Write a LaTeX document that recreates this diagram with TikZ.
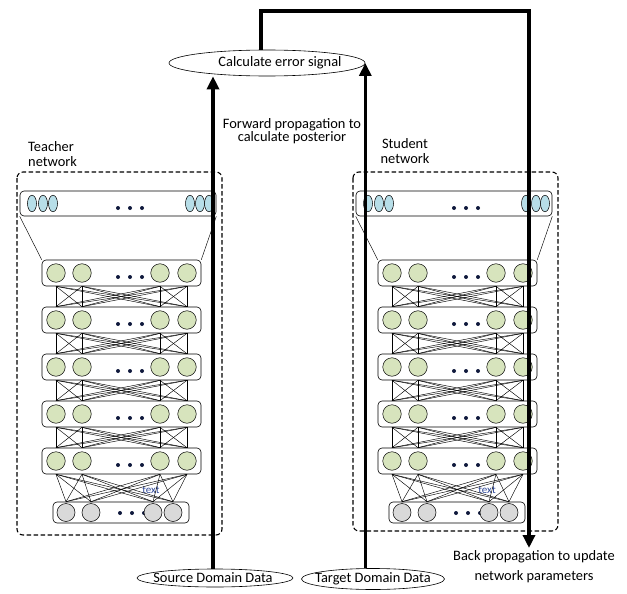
\documentclass[tikz,border=0pt]{standalone}
\usepackage{fontspec}
\setmainfont{Carlito}
\usetikzlibrary{shapes.geometric,arrows.meta}
\definecolor{unitgreen}{RGB}{215,228,189}
\definecolor{unitblue}{RGB}{183,222,232}
\definecolor{unitgray}{RGB}{217,217,217}
\definecolor{dotnavy}{RGB}{15,25,60}
\definecolor{tagblue}{RGB}{45,70,150}
\tikzset{
  layerbox/.style={draw,rounded corners=4pt,fill=white,line width=0.6pt,inner sep=0pt},
  hunit/.style={circle,draw,line width=0.5pt,fill=unitgreen,minimum size=18.5pt,inner sep=0pt},
  iunit/.style={circle,draw,line width=0.5pt,fill=unitgray,minimum size=18pt,inner sep=0pt},
  ounit/.style={ellipse,draw,line width=0.5pt,fill=unitblue,minimum width=9pt,minimum height=16.5pt,inner sep=0pt},
  netbox/.style={draw,dash pattern=on 4.5pt off 2.5pt,line width=1.1pt,rounded corners=6pt},
  datanode/.style={ellipse,draw,line width=0.6pt,inner sep=0pt},
  bigarrow/.style={line width=3.6pt,-{Triangle[width=12pt,length=13pt]}},
  link/.style={line width=0.45pt},
  txt/.style={font=\fontsize{14.4}{15}\selectfont,inner sep=0pt}
}
\begin{document}
\begin{tikzpicture}[x=1pt,y=-1pt]
\useasboundingbox (0,0) rectangle (627,594);
\foreach \p/\dx/\bot in {t/0/535,s/336/531}{
\begin{scope}[xshift=\dx pt,name prefix=\p-]
\draw[netbox] (17,172) rectangle (222,\bot);
\node[layerbox,minimum width=196pt,minimum height=25pt] (out) at (118,203.5) {};
\foreach \x in {32,43,53,190,200,209} \node[ounit] at (\x,203.5) {};
\foreach \x in {118,130,142} \fill[dotnavy] (\x,208) circle (2pt);
\foreach \k in {1,...,5}{
  \node[layerbox,minimum width=159pt,minimum height=26pt] (l\k) at (121.5,{226+47*\k}) {};
  \foreach \x [count=\i] in {56,82,160,187} \node[hunit] (u\k-\i) at (\x,{226+47*\k}) {};
  \foreach \x in {118,130,142} \fill[dotnavy] (\x,{230+47*\k}) circle (2pt);
}
\node[layerbox,minimum width=136pt,minimum height=21pt] (inp) at (121,512.5) {};
\foreach \x in {120,132,144} \fill[dotnavy] (\x,513) circle (2pt);
\foreach \x [count=\i] in {66,91,153,173} \node[iunit] (i\i) at (\x,512.5) {};
\draw[link] (out.south west) -- (l1.north west);
\draw[link] (out.south east) -- (l1.north east);
\node[font=\fontsize{11}{12}\selectfont,text=tagblue,inner sep=0pt] (tag) at (151,490) {text};
\foreach \k [evaluate=\k as \n using int(\k+1)] in {1,...,4}
  \foreach \i in {1,...,4} \foreach \j in {1,...,4}
    \draw[link] (u\k-\i |- l\k.south) -- (u\n-\j |- l\n.north);
\foreach \i in {1,...,4} \foreach \j in {1,...,4}
  \draw[link] (u5-\i |- l5.south) -- (i\j |- inp.north);
\end{scope}
}
\node[txt,align=left,anchor=west] (tlabel) at (28,154.5) {Teacher\\network};
\node[txt,align=center] (slabel) at (405,151) {Student\\network};
\node[datanode,minimum width=196pt,minimum height=26pt] (err) at (267,63) {};
\node[txt,xshift=13pt] (errtext) at (err) {Calculate error signal};
\node[datanode,minimum width=156pt,minimum height=18pt] (src) at (215,578) {};
\node[txt,xshift=-2pt] (srctext) at (src) {Source Domain Data};
\node[datanode,minimum width=143pt,minimum height=21pt] (tgt) at (373,579) {};
\node[txt] (tgttext) at (tgt) {Target Domain Data};
\node[txt,align=center,font=\fontsize{14.4}{13}\selectfont] (fwd) at (292,131) {Forward propagation to\\calculate posterior};
\node[txt,align=center,font=\fontsize{14.4}{20}\selectfont] (bp) at (534,567) {Back propagation to update\\network parameters};
\coordinate (fbtop) at (261,11);
\coordinate (fbend) at (529,548);
\draw[bigarrow] (src.north -| srctext) -- (srctext |- err.south);
\draw[bigarrow] (err.east |- tgt.north) -- (err.east);
\draw[bigarrow] (err.north -| fbtop) -- (fbtop) -| (fbend);
\end{tikzpicture}
\end{document}
